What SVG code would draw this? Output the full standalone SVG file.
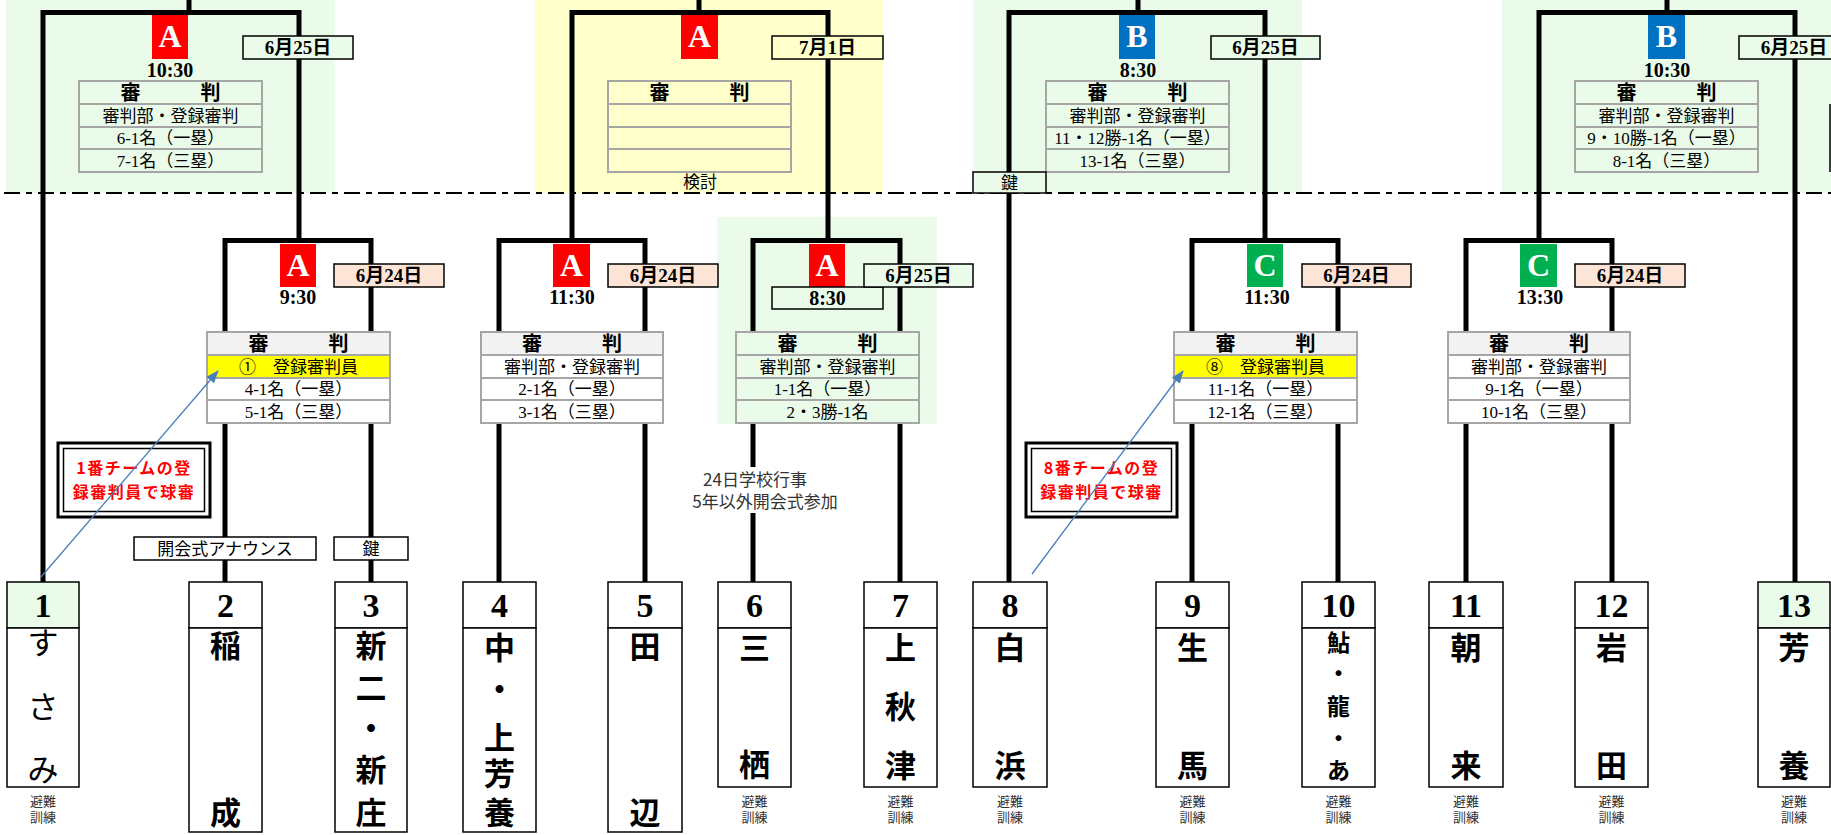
<svg xmlns="http://www.w3.org/2000/svg" width="1831" height="835" viewBox="0 0 1831 835">
<style>
.bgG{fill:#EAFCE9}
.bgY{fill:#FFFFCC}
.ln{fill:none;stroke:#000;stroke-width:5;stroke-linejoin:miter}
.tb{stroke:#A6A6A6;stroke-width:2}
.tl{fill:none;stroke:#A6A6A6;stroke-width:2}
.bx{stroke:#000;stroke-width:1.5}
.ser{font-family:"Liberation Serif","Noto Sans CJK JP",serif;fill:#000;text-anchor:middle}
.hd{font-size:20px;font-weight:bold}
.rw{font-size:17px}
.dt{font-size:19px;font-weight:bold}
.tm{font-size:20px;font-weight:bold}
.let{font-size:32px;font-weight:bold;fill:#fff}
.num{font-size:34px;font-weight:bold}
.nm{font-size:31px;font-weight:bold;dominant-baseline:central}
.nmr{font-size:31px;dominant-baseline:central}
.nms{font-size:23px;font-weight:bold;dominant-baseline:central}
.got{font-family:"Noto Sans CJK JP",sans-serif;text-anchor:middle;fill:#000}
.lbl{font-size:17px}
.note{font-size:17px;fill:#333}
.drill{font-size:13px;fill:#333}
.call{font-size:16px;font-weight:bold;fill:#FF0000;letter-spacing:1.5px}
.arr{stroke:#4A7EBB;stroke-width:1.3;fill:none}
</style>
<defs>
<marker id="ah" markerUnits="userSpaceOnUse" markerWidth="13" markerHeight="10" refX="12" refY="5" orient="auto">
<path d="M0,0 L13,5 L0,10 z" fill="#4A7EBB"/>
</marker>
</defs>

<g id="backgrounds">
<rect x="6" y="0" width="329" height="193" class="bgG"/>
<rect x="535" y="0" width="348" height="193" class="bgY"/>
<rect x="973" y="0" width="329" height="193" class="bgG"/>
<rect x="1502" y="0" width="329" height="193" class="bgG"/>
<rect x="717" y="217" width="220" height="207" class="bgG"/>
</g>

<g id="connectors">
<path class="ln" d="M189 0V12.5M43 582V12.5H299V240.5"/>
<path class="ln" d="M699 0V12.5M572 240.5V12.5H828V240.5"/>
<path class="ln" d="M1138 0V12.5M1009 582V12.5H1265V240.5"/>
<path class="ln" d="M1667 0V12.5M1539 240.5V12.5H1795V582"/>
<path class="ln" d="M225 582V240.5H371V582"/>
<path class="ln" d="M499 582V240.5H645V582"/>
<path class="ln" d="M753 582V240.5H900V582"/>
<path class="ln" d="M1192 582V240.5H1338V582"/>
<path class="ln" d="M1466 582V240.5H1612V582"/>
</g>

<g id="divider">
<line x1="4" y1="193" x2="1831" y2="193" stroke="#000" stroke-width="2" stroke-dasharray="16 6 6 6"/>
</g>

<g id="game-top-1">
<rect x="152" y="15" width="36" height="44" fill="#FF0000"/>
<text x="170" y="47" class="ser let">A</text>
<text x="170" y="77" class="ser tm">10:30</text>
<rect x="243" y="36" width="110" height="23" class="bx bgG"/>
<text x="298" y="54" class="ser dt">6月25日</text>
<rect x="79" y="81" width="183" height="91" class="tb bgG"/>
<path class="tl" d="M79 104H262M79 127H262M79 149H262"/>
<text x="170.5" y="99.5" class="ser hd">審　　　判</text>
<text x="170.5" y="121.5" class="ser rw">審判部・登録審判</text>
<text x="170.5" y="144" class="ser rw">6-1名（一塁）</text>
<text x="170.5" y="166.5" class="ser rw">7-1名（三塁）</text>
</g>

<g id="game-top-2">
<rect x="681" y="15" width="37" height="44" fill="#FF0000"/>
<text x="699.5" y="47" class="ser let">A</text>
<rect x="772" y="36" width="111" height="23" class="bx bgY"/>
<text x="827.5" y="54" class="ser dt">7月1日</text>
<rect x="608" y="81" width="183" height="91" class="tb bgY"/>
<path class="tl" d="M608 104H791M608 127H791M608 149H791"/>
<text x="699.5" y="99.5" class="ser hd">審　　　判</text>
<text x="700" y="188" class="got lbl">検討</text>
</g>

<g id="game-top-3">
<rect x="1119" y="15" width="36" height="44" fill="#0070C0"/>
<text x="1137" y="47" class="ser let">B</text>
<text x="1138" y="77" class="ser tm">8:30</text>
<rect x="1211" y="36" width="109" height="23" class="bx bgG"/>
<text x="1265.5" y="54" class="ser dt">6月25日</text>
<rect x="1046" y="81" width="183" height="91" class="tb bgG"/>
<path class="tl" d="M1046 104H1229M1046 127H1229M1046 149H1229"/>
<text x="1137.5" y="99.5" class="ser hd">審　　　判</text>
<text x="1137.5" y="121.5" class="ser rw">審判部・登録審判</text>
<text x="1137.5" y="144" class="ser rw">11・12勝-1名（一塁）</text>
<text x="1137.5" y="166.5" class="ser rw">13-1名（三塁）</text>
<rect x="973" y="172" width="73" height="21" class="bx bgG"/>
<text x="1009.5" y="189" class="got lbl">鍵</text>
</g>

<g id="game-top-4">
<rect x="1648" y="15" width="37" height="44" fill="#0070C0"/>
<text x="1666.5" y="47" class="ser let">B</text>
<text x="1667" y="77" class="ser tm">10:30</text>
<rect x="1739" y="36" width="110" height="23" class="bx bgG"/>
<text x="1794" y="54" class="ser dt">6月25日</text>
<rect x="1575" y="81" width="183" height="91" class="tb bgG"/>
<path class="tl" d="M1575 104H1758M1575 127H1758M1575 149H1758"/>
<text x="1666.5" y="99.5" class="ser hd">審　　　判</text>
<text x="1666.5" y="121.5" class="ser rw">審判部・登録審判</text>
<text x="1666.5" y="144" class="ser rw">9・10勝-1名（一塁）</text>
<text x="1666.5" y="166.5" class="ser rw">8-1名（三塁）</text>
<line x1="1830" y1="104" x2="1830" y2="172" stroke="#000" stroke-width="1.5"/>
</g>

<g id="game-2-3">
<rect x="280" y="244" width="36" height="43" fill="#FF0000"/>
<text x="298" y="276" class="ser let">A</text>
<text x="298" y="304" class="ser tm">9:30</text>
<rect x="334" y="264" width="110" height="23" class="bx" fill="#FCE4D6"/>
<text x="389" y="282" class="ser dt">6月24日</text>
<rect x="207" y="332" width="183" height="91" class="tb" fill="#fff"/>
<rect x="207" y="332" width="183" height="23" fill="#F2F2F2"/>
<rect x="207" y="355" width="183" height="23" fill="#FFFF00"/>
<rect x="207" y="332" width="183" height="91" class="tl"/>
<path class="tl" d="M207 355H390M207 378H390M207 400H390"/>
<text x="298.5" y="350.5" class="ser hd">審　　　判</text>
<text x="298.5" y="372.5" class="ser rw">①　登録審判員</text>
<text x="298.5" y="395" class="ser rw">4-1名（一塁）</text>
<text x="298.5" y="417.5" class="ser rw">5-1名（三塁）</text>
</g>

<g id="game-4-5">
<rect x="553" y="244" width="37" height="43" fill="#FF0000"/>
<text x="571.5" y="276" class="ser let">A</text>
<text x="572" y="304" class="ser tm">11:30</text>
<rect x="608" y="264" width="110" height="23" class="bx" fill="#FCE4D6"/>
<text x="663" y="282" class="ser dt">6月24日</text>
<rect x="481" y="332" width="182" height="91" class="tb" fill="#fff"/>
<rect x="481" y="332" width="182" height="23" fill="#F2F2F2"/>
<rect x="481" y="332" width="182" height="91" class="tl"/>
<path class="tl" d="M481 355H663M481 378H663M481 400H663"/>
<text x="572" y="350.5" class="ser hd">審　　　判</text>
<text x="572" y="372.5" class="ser rw">審判部・登録審判</text>
<text x="572" y="395" class="ser rw">2-1名（一塁）</text>
<text x="572" y="417.5" class="ser rw">3-1名（三塁）</text>
</g>

<g id="game-6-7">
<rect x="809" y="244" width="36" height="43" fill="#FF0000"/>
<text x="827" y="276" class="ser let">A</text>
<rect x="772" y="287" width="111" height="22" class="bx bgG"/>
<text x="827.5" y="305" class="ser tm">8:30</text>
<rect x="864" y="264" width="109" height="23" class="bx bgG"/>
<text x="918.5" y="282" class="ser dt">6月25日</text>
<rect x="736" y="332" width="183" height="91" class="tb bgG"/>
<path class="tl" d="M736 355H919M736 378H919M736 400H919"/>
<text x="827.5" y="350.5" class="ser hd">審　　　判</text>
<text x="827.5" y="372.5" class="ser rw">審判部・登録審判</text>
<text x="827.5" y="395" class="ser rw">1-1名（一塁）</text>
<text x="827.5" y="417.5" class="ser rw">2・3勝-1名</text>
</g>

<g id="game-9-10">
<rect x="1247" y="244" width="36" height="43" fill="#00B050"/>
<text x="1265" y="276" class="ser let">C</text>
<text x="1267" y="304" class="ser tm">11:30</text>
<rect x="1302" y="264" width="109" height="23" class="bx" fill="#FCE4D6"/>
<text x="1356.5" y="282" class="ser dt">6月24日</text>
<rect x="1174" y="332" width="183" height="91" class="tb" fill="#fff"/>
<rect x="1174" y="332" width="183" height="23" fill="#F2F2F2"/>
<rect x="1174" y="355" width="183" height="23" fill="#FFFF00"/>
<rect x="1174" y="332" width="183" height="91" class="tl"/>
<path class="tl" d="M1174 355H1357M1174 378H1357M1174 400H1357"/>
<text x="1265.5" y="350.5" class="ser hd">審　　　判</text>
<text x="1265.5" y="372.5" class="ser rw">⑧　登録審判員</text>
<text x="1265.5" y="395" class="ser rw">11-1名（一塁）</text>
<text x="1265.5" y="417.5" class="ser rw">12-1名（三塁）</text>
</g>

<g id="game-11-12">
<rect x="1520" y="244" width="37" height="43" fill="#00B050"/>
<text x="1538.5" y="276" class="ser let">C</text>
<text x="1540" y="304" class="ser tm">13:30</text>
<rect x="1575" y="264" width="110" height="23" class="bx" fill="#FCE4D6"/>
<text x="1630" y="282" class="ser dt">6月24日</text>
<rect x="1448" y="332" width="182" height="91" class="tb" fill="#fff"/>
<rect x="1448" y="332" width="182" height="23" fill="#F2F2F2"/>
<rect x="1448" y="332" width="182" height="91" class="tl"/>
<path class="tl" d="M1448 355H1630M1448 378H1630M1448 400H1630"/>
<text x="1539" y="350.5" class="ser hd">審　　　判</text>
<text x="1539" y="372.5" class="ser rw">審判部・登録審判</text>
<text x="1539" y="395" class="ser rw">9-1名（一塁）</text>
<text x="1539" y="417.5" class="ser rw">10-1名（三塁）</text>
</g>

<g id="note-1">
<rect x="58" y="443" width="152" height="74" fill="#fff" stroke="#000" stroke-width="3"/>
<rect x="63.5" y="448.5" width="141" height="63" fill="none" stroke="#000" stroke-width="1.5"/>
<text x="134" y="474" class="got call">1番チームの登</text>
<text x="134" y="498" class="got call">録審判員で球審</text>
</g>
<g id="note-8">
<rect x="1026" y="443" width="151" height="74" fill="#fff" stroke="#000" stroke-width="3"/>
<rect x="1031.5" y="448.5" width="140" height="63" fill="none" stroke="#000" stroke-width="1.5"/>
<text x="1101.5" y="474" class="got call">8番チームの登</text>
<text x="1101.5" y="498" class="got call">録審判員で球審</text>
</g>
<g id="note-announce">
<rect x="134" y="537" width="182" height="23" class="bx" fill="#fff"/>
<text x="225" y="555" class="got lbl">開会式アナウンス</text>
</g>
<g id="note-key">
<rect x="334" y="537" width="74" height="23" class="bx" fill="#fff"/>
<text x="371" y="555" class="got lbl">鍵</text>
</g>
<g id="note-school">
<rect x="692" y="467" width="146" height="46" fill="#fff"/>
<text x="755" y="486" class="got note">24日学校行事</text>
<text x="765" y="508" class="got note">5年以外開会式参加</text>
</g>

<g id="team-1">
<rect x="7" y="582" width="72" height="46" class="bx bgG"/>
<rect x="7" y="628" width="72" height="159" class="bx" fill="#fff"/>
<text x="43" y="617" class="ser num">1</text>
<text x="43" y="643" class="ser nmr">す</text>
<text x="43" y="707" class="ser nmr">さ</text>
<text x="43" y="770" class="ser nmr">み</text>
<text x="43" y="806" class="got drill">避難</text>
<text x="43" y="822" class="got drill">訓練</text>
</g>
<g id="team-2">
<rect x="189" y="582" width="73" height="46" class="bx" fill="#fff"/>
<rect x="189" y="628" width="73" height="204" class="bx" fill="#fff"/>
<text x="225.5" y="617" class="ser num">2</text>
<text x="225.5" y="646" class="ser nm">稲</text>
<text x="225.5" y="813" class="ser nm">成</text>
</g>
<g id="team-3">
<rect x="335" y="582" width="72" height="46" class="bx" fill="#fff"/>
<rect x="335" y="628" width="72" height="204" class="bx" fill="#fff"/>
<text x="371" y="617" class="ser num">3</text>
<text x="371" y="646" class="ser nm">新</text>
<text x="371" y="688" class="ser nm">二</text>
<text x="371" y="728" class="ser nm">・</text>
<text x="371" y="770" class="ser nm">新</text>
<text x="371" y="813" class="ser nm">庄</text>
</g>
<g id="team-4">
<rect x="463" y="582" width="73" height="46" class="bx" fill="#fff"/>
<rect x="463" y="628" width="73" height="204" class="bx" fill="#fff"/>
<text x="499.5" y="617" class="ser num">4</text>
<text x="499.5" y="648" class="ser nm">中</text>
<text x="499.5" y="689" class="ser nm">・</text>
<text x="499.5" y="738" class="ser nm">上</text>
<text x="499.5" y="774" class="ser nm">芳</text>
<text x="499.5" y="813" class="ser nm">養</text>
</g>
<g id="team-5">
<rect x="608" y="582" width="74" height="46" class="bx" fill="#fff"/>
<rect x="608" y="628" width="74" height="204" class="bx" fill="#fff"/>
<text x="645" y="617" class="ser num">5</text>
<text x="645" y="647" class="ser nm">田</text>
<text x="645" y="813" class="ser nm">辺</text>
</g>
<g id="team-6">
<rect x="718" y="582" width="73" height="46" class="bx" fill="#fff"/>
<rect x="718" y="628" width="73" height="159" class="bx" fill="#fff"/>
<text x="754.5" y="617" class="ser num">6</text>
<text x="754.5" y="648" class="ser nm">三</text>
<text x="754.5" y="765" class="ser nm">栖</text>
<text x="754.5" y="806" class="got drill">避難</text>
<text x="754.5" y="822" class="got drill">訓練</text>
</g>
<g id="team-7">
<rect x="864" y="582" width="73" height="46" class="bx" fill="#fff"/>
<rect x="864" y="628" width="73" height="159" class="bx" fill="#fff"/>
<text x="900.5" y="617" class="ser num">7</text>
<text x="900.5" y="648" class="ser nm">上</text>
<text x="900.5" y="707" class="ser nm">秋</text>
<text x="900.5" y="766" class="ser nm">津</text>
<text x="900.5" y="806" class="got drill">避難</text>
<text x="900.5" y="822" class="got drill">訓練</text>
</g>
<g id="team-8">
<rect x="973" y="582" width="74" height="46" class="bx" fill="#fff"/>
<rect x="973" y="628" width="74" height="159" class="bx" fill="#fff"/>
<text x="1010" y="617" class="ser num">8</text>
<text x="1010" y="648" class="ser nm">白</text>
<text x="1010" y="766" class="ser nm">浜</text>
<text x="1010" y="806" class="got drill">避難</text>
<text x="1010" y="822" class="got drill">訓練</text>
</g>
<g id="team-9">
<rect x="1156" y="582" width="73" height="46" class="bx" fill="#fff"/>
<rect x="1156" y="628" width="73" height="159" class="bx" fill="#fff"/>
<text x="1192.5" y="617" class="ser num">9</text>
<text x="1192.5" y="648" class="ser nm">生</text>
<text x="1192.5" y="766" class="ser nm">馬</text>
<text x="1192.5" y="806" class="got drill">避難</text>
<text x="1192.5" y="822" class="got drill">訓練</text>
</g>
<g id="team-10">
<rect x="1302" y="582" width="73" height="46" class="bx" fill="#fff"/>
<rect x="1302" y="628" width="73" height="159" class="bx" fill="#fff"/>
<text x="1338.5" y="617" class="ser num">10</text>
<text x="1338.5" y="643" class="ser nms">鮎</text>
<text x="1338.5" y="674" class="ser nms">・</text>
<text x="1338.5" y="707" class="ser nms">龍</text>
<text x="1338.5" y="739" class="ser nms">・</text>
<text x="1338.5" y="771" class="ser nms">あ</text>
<text x="1338.5" y="806" class="got drill">避難</text>
<text x="1338.5" y="822" class="got drill">訓練</text>
</g>
<g id="team-11">
<rect x="1429" y="582" width="74" height="46" class="bx" fill="#fff"/>
<rect x="1429" y="628" width="74" height="159" class="bx" fill="#fff"/>
<text x="1466" y="617" class="ser num">11</text>
<text x="1466" y="648" class="ser nm">朝</text>
<text x="1466" y="766" class="ser nm">来</text>
<text x="1466" y="806" class="got drill">避難</text>
<text x="1466" y="822" class="got drill">訓練</text>
</g>
<g id="team-12">
<rect x="1575" y="582" width="73" height="46" class="bx" fill="#fff"/>
<rect x="1575" y="628" width="73" height="159" class="bx" fill="#fff"/>
<text x="1611.5" y="617" class="ser num">12</text>
<text x="1611.5" y="648" class="ser nm">岩</text>
<text x="1611.5" y="766" class="ser nm">田</text>
<text x="1611.5" y="806" class="got drill">避難</text>
<text x="1611.5" y="822" class="got drill">訓練</text>
</g>
<g id="team-13">
<rect x="1758" y="582" width="72" height="46" class="bx bgG"/>
<rect x="1758" y="628" width="72" height="159" class="bx" fill="#fff"/>
<text x="1794" y="617" class="ser num">13</text>
<text x="1794" y="648" class="ser nm">芳</text>
<text x="1794" y="766" class="ser nm">養</text>
<text x="1794" y="806" class="got drill">避難</text>
<text x="1794" y="822" class="got drill">訓練</text>
</g>

<g id="arrows">
<line x1="41" y1="577" x2="218" y2="371" class="arr" marker-end="url(#ah)"/>
<line x1="1032" y1="574" x2="1183" y2="371" class="arr" marker-end="url(#ah)"/>
</g>
</svg>
